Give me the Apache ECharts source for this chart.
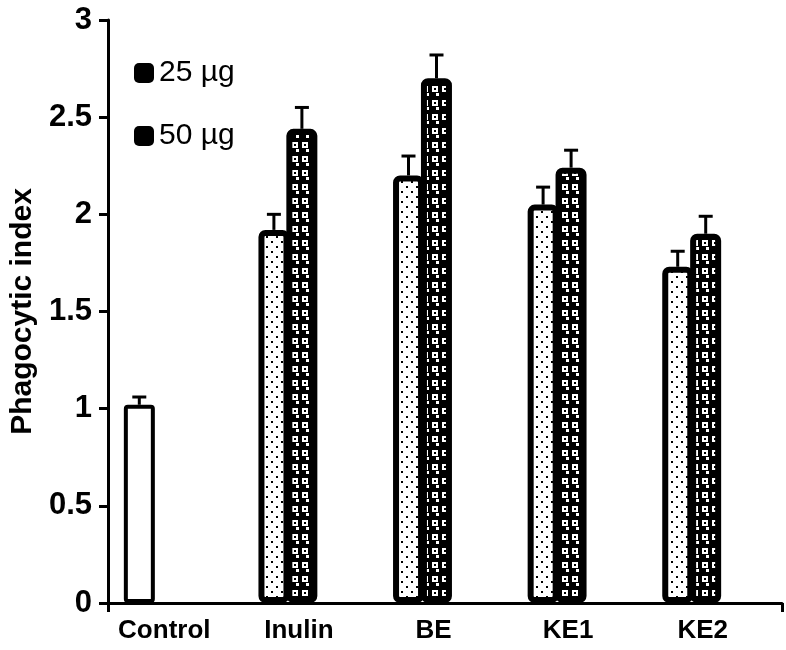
<!DOCTYPE html>
<html>
<head>
<meta charset="utf-8">
<script src="https://cdn.jsdelivr.net/npm/echarts@6/dist/echarts.min.js"></script>
<style>html,body{margin:0;padding:0;background:#fff}#c{width:786px;height:650px}</style>
</head>
<body>
<div id="c"></div>
<script>
var categories = ['Control', 'Inulin', 'BE', 'KE1', 'KE2'];
var values25 = [1.02, 1.92, 2.20, 2.05, 1.73];
var errors25 = [0.04, 0.08, 0.10, 0.09, 0.08];
var values50 = [null, 2.44, 2.70, 2.24, 1.90];
var errors50 = [null, 0.11, 0.12, 0.09, 0.09];
var yTicks = [0, 0.5, 1, 1.5, 2, 2.5, 3];

var FONT = '"Liberation Sans", Arial, sans-serif';
var BAR_W = 31;
var ERR_OFF = 14;

function makePattern(kind) {
  var c = document.createElement('canvas');
  var ctx = c.getContext('2d');
  if (kind === 'dots') {
    c.width = 10; c.height = 10;
    ctx.fillStyle = '#fff'; ctx.fillRect(0, 0, 10, 10);
    ctx.fillStyle = '#000';
    ctx.fillRect(1, 1, 2, 2);
    ctx.fillRect(6, 6, 2, 2);
  } else {
    c.width = 10; c.height = 14;
    ctx.fillStyle = '#000'; ctx.fillRect(0, 0, 10, 14);
    ctx.fillStyle = '#fff';
    ctx.fillRect(2, 2, 6, 6);
    ctx.fillRect(6, 9, 3, 3);
    ctx.fillStyle = '#000';
    ctx.fillRect(4, 4, 2, 2);
  }
  return { image: c, repeat: 'repeat' };
}
var pat25 = makePattern('dots');
var pat50 = makePattern('dark');

var data25 = values25.map(function (v, i) {
  if (i === 0) return { value: v, itemStyle: { color: '#fff', borderWidth: 4, borderRadius: 2 } };
  return v;
});
var data50 = values50.map(function (v) { return v === null ? '-' : v; });

function errData(vals, errs) {
  var out = [];
  vals.forEach(function (v, i) { if (v !== null && errs[i] !== null) out.push([i, v, errs[i]]); });
  return out;
}

function errRender(offset) {
  return function (params, api) {
    var idx = api.value(0), v = api.value(1), e = api.value(2);
    var base = api.coord([idx, v]);
    var top = api.coord([idx, v + e]);
    var x = base[0] + offset;
    var half = 7;
    return {
      type: 'group',
      children: [
        { type: 'line', shape: { x1: x, y1: base[1], x2: x, y2: top[1] }, style: { stroke: '#000', lineWidth: 3 } },
        { type: 'line', shape: { x1: x - half, y1: top[1], x2: x + half, y2: top[1] }, style: { stroke: '#000', lineWidth: 3 } }
      ]
    };
  };
}

var chart = echarts.init(document.getElementById('c'), null, { renderer: 'canvas' });
chart.setOption({
  animation: false,
  backgroundColor: '#fff',
  grid: [
    { left: 86, width: 673, top: 20, bottom: 47 },
    { left: 108, right: 4, top: 20, bottom: 47 }
  ],
  legend: {
    orient: 'vertical',
    left: 134, top: 58, padding: 0,
    itemWidth: 20, itemHeight: 20, itemGap: 33,
    icon: 'roundRect',
    textStyle: { fontFamily: FONT, fontSize: 30, color: '#000' },
    data: [
      { name: '25 µg', itemStyle: { color: '#000', borderWidth: 0 } },
      { name: '50 µg', itemStyle: { color: '#000', borderWidth: 0 } }
    ]
  },
  xAxis: [
    {
      type: 'category', gridIndex: 0, data: categories,
      axisLine: { show: false }, axisTick: { show: false },
      axisLabel: { fontFamily: FONT, fontSize: 26, fontWeight: 'bold', color: '#000', margin: 15, padding: [0, 0, 0, 22] }
    },
    {
      type: 'value', gridIndex: 1, min: 0, max: 1, interval: 1,
      axisLine: { show: true, lineStyle: { color: '#000', width: 3 } },
      axisTick: { show: true, length: 9, lineStyle: { color: '#000', width: 3 } },
      axisLabel: { show: false }, splitLine: { show: false }
    }
  ],
  yAxis: [
    {
      type: 'value', gridIndex: 0, min: 0, max: 3, interval: 0.5,
      show: false, splitLine: { show: false }
    },
    {
      type: 'value', gridIndex: 1, min: yTicks[0], max: yTicks[yTicks.length - 1], interval: 0.5,
      name: 'Phagocytic index', nameLocation: 'middle', nameGap: 66,
      nameTextStyle: { fontFamily: FONT, fontSize: 30, fontWeight: 'bold', color: '#000' },
      axisLine: { show: true, lineStyle: { color: '#000', width: 3 } },
      axisTick: { show: true, length: 9, lineStyle: { color: '#000', width: 3 } },
      axisLabel: { fontFamily: FONT, fontSize: 31, fontWeight: 'bold', color: '#000', margin: 16 },
      splitLine: { show: false }
    }
  ],
  series: [
    {
      name: '25 µg', type: 'bar', xAxisIndex: 0, yAxisIndex: 0,
      barWidth: BAR_W, barGap: '-10%', data: data25,
      itemStyle: { color: pat25, borderColor: '#000', borderWidth: 6, borderRadius: 4 }
    },
    {
      name: '50 µg', type: 'bar', xAxisIndex: 0, yAxisIndex: 0,
      barWidth: BAR_W, barGap: '-10%', data: data50,
      itemStyle: { color: pat50, borderColor: '#000', borderWidth: 6, borderRadius: 4 }
    },
    {
      name: 'err25', type: 'custom', xAxisIndex: 0, yAxisIndex: 0, z: 5,
      renderItem: errRender(-ERR_OFF), data: errData(values25, errors25), encode: { x: 0, y: 1 }
    },
    {
      name: 'err50', type: 'custom', xAxisIndex: 0, yAxisIndex: 0, z: 5,
      renderItem: errRender(ERR_OFF), data: errData(values50, errors50), encode: { x: 0, y: 1 }
    }
  ]
});
</script>
</body>
</html>
